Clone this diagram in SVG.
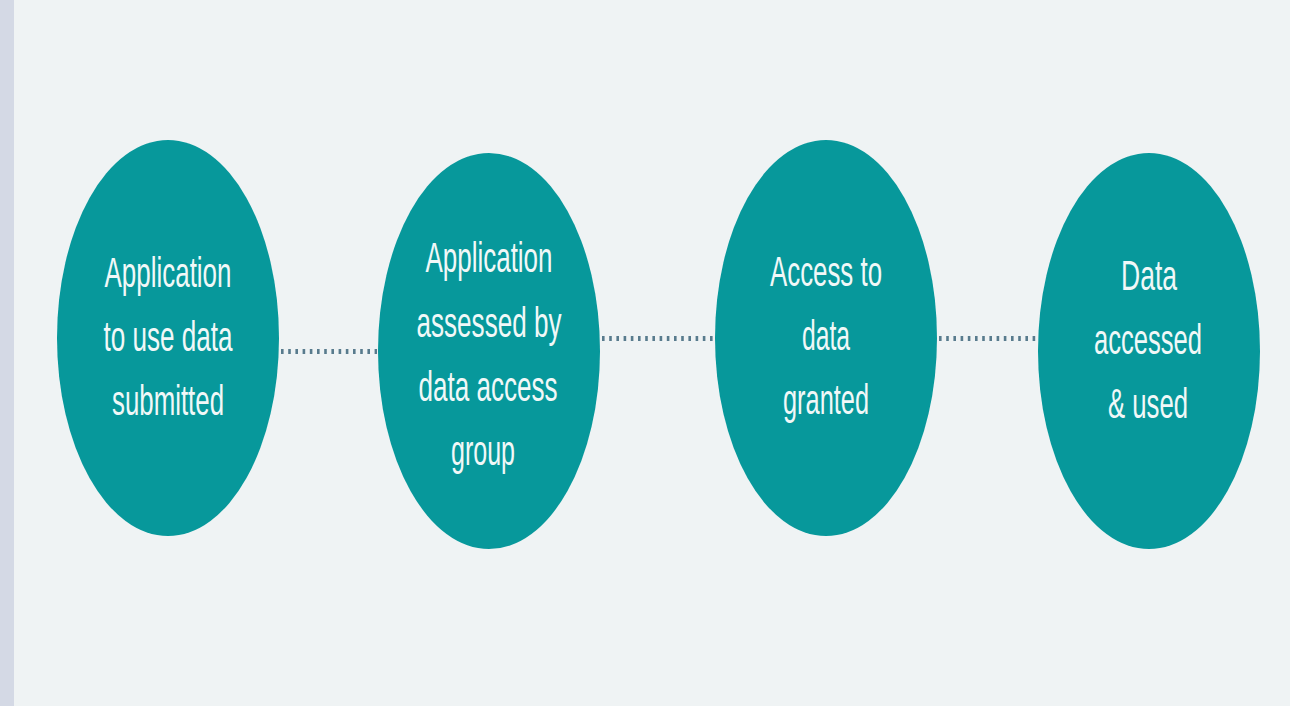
<svg xmlns="http://www.w3.org/2000/svg" width="1290" height="706" viewBox="0 0 1290 706">
<style>
.node{fill:#07989b}
.lbl{font-family:"Liberation Sans",Arial,sans-serif;font-size:43px;fill:#f1f8f8;text-anchor:middle}
.dot{stroke:#587b8d;stroke-width:5;stroke-dasharray:2.6 4.6;fill:none}
</style>
<rect x="0" y="0" width="1290" height="706" fill="#eff3f4"/>
<rect x="0" y="0" width="14" height="706" fill="#d4d9e5"/>
<g id="connectors">
<line class="dot" x1="281" y1="351.5" x2="377" y2="351.5"/>
<line class="dot" x1="602" y1="338.5" x2="714" y2="338.5"/>
<line class="dot" x1="939" y1="338.5" x2="1037" y2="338.5"/>
</g>
<g id="node1">
<ellipse class="node" cx="168" cy="338" rx="111" ry="198"/>
<text class="lbl" x="168" y="287" textLength="127" lengthAdjust="spacingAndGlyphs">Application</text>
<text class="lbl" x="168" y="351" textLength="129" lengthAdjust="spacingAndGlyphs">to use data</text>
<text class="lbl" x="168" y="415" textLength="112" lengthAdjust="spacingAndGlyphs">submitted</text>
</g>
<g id="node2">
<ellipse class="node" cx="489" cy="351" rx="111" ry="198"/>
<text class="lbl" x="489" y="272" textLength="127" lengthAdjust="spacingAndGlyphs">Application</text>
<text class="lbl" x="489" y="337" textLength="145" lengthAdjust="spacingAndGlyphs">assessed by</text>
<text class="lbl" x="488" y="401" textLength="139" lengthAdjust="spacingAndGlyphs">data access</text>
<text class="lbl" x="483" y="465" textLength="64" lengthAdjust="spacingAndGlyphs">group</text>
</g>
<g id="node3">
<ellipse class="node" cx="826" cy="338" rx="111" ry="198"/>
<text class="lbl" x="826" y="286" textLength="112" lengthAdjust="spacingAndGlyphs">Access to</text>
<text class="lbl" x="826" y="350" textLength="48" lengthAdjust="spacingAndGlyphs">data</text>
<text class="lbl" x="826" y="414" textLength="86" lengthAdjust="spacingAndGlyphs">granted</text>
</g>
<g id="node4">
<ellipse class="node" cx="1149" cy="351" rx="111" ry="198"/>
<text class="lbl" x="1149" y="290" textLength="56" lengthAdjust="spacingAndGlyphs">Data</text>
<text class="lbl" x="1148" y="354" textLength="108" lengthAdjust="spacingAndGlyphs">accessed</text>
<text class="lbl" x="1148" y="418" textLength="80" lengthAdjust="spacingAndGlyphs">&amp; used</text>
</g>
</svg>
